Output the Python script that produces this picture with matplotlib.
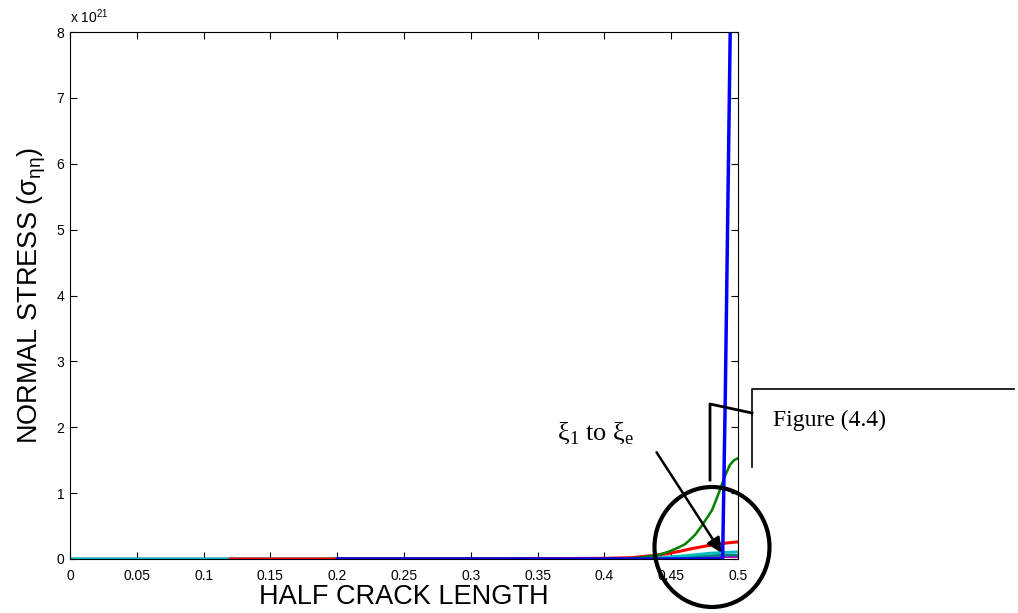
import numpy as np
import matplotlib.pyplot as plt
from matplotlib.patches import Ellipse
from matplotlib.lines import Line2D

# ---- data (stress in units of 1e21) ----
x_cyan = [0.0, 0.12, 0.40, 0.44, 0.46, 0.47, 0.48, 0.49, 0.50]
y_cyan = [0.0, 0.0, 0.0, 0.02, 0.05, 0.07, 0.09, 0.10, 0.11]

x_teal = [0.0, 0.40, 0.44, 0.46, 0.48, 0.49, 0.50]
y_teal = [0.0, 0.0, 0.01, 0.03, 0.05, 0.06, 0.06]

x_magenta = [0.0, 0.40, 0.44, 0.46, 0.48, 0.50]
y_magenta = [0.0, 0.0, 0.01, 0.02, 0.03, 0.03]

x_red = [0.12, 0.30, 0.40, 0.42, 0.435, 0.447, 0.457, 0.466, 0.474, 0.482, 0.49, 0.50]
y_red = [0.0, 0.0, 0.01, 0.02, 0.05, 0.08, 0.12, 0.16, 0.19, 0.22, 0.24, 0.26]

x_green = [0.40, 0.42, 0.43, 0.44, 0.448, 0.455, 0.46, 0.464, 0.468, 0.472,
           0.476, 0.4805, 0.4835, 0.4865, 0.49, 0.494, 0.497, 0.50]
y_green = [0.0, 0.01, 0.03, 0.06, 0.11, 0.17, 0.22, 0.29, 0.37, 0.48,
           0.60, 0.74, 0.89, 1.05, 1.25, 1.43, 1.50, 1.53]

x_blue = [0.20, 0.40, 0.48, 0.4885, 0.4905, 0.4925, 0.4945]
y_blue = [0.0, 0.0, 0.0, 0.0, 2.5, 5.5, 8.5]

x_ticks = [0, 0.05, 0.1, 0.15, 0.2, 0.25, 0.3, 0.35, 0.4, 0.45, 0.5]
y_ticks = [0, 1, 2, 3, 4, 5, 6, 7, 8]

SANS = "Liberation Sans"
SERIF = "Liberation Serif"

fig = plt.figure(figsize=(10.18, 6.13), dpi=100)
ax = fig.add_axes([70 / 1018, 54 / 613, 668 / 1018, 527 / 613])

scale = 1e21
ax.plot(x_magenta, np.array(y_magenta) * scale, color="#bf00bf", lw=1.5)
ax.plot(x_teal, np.array(y_teal) * scale, color="#008080", lw=2)
ax.plot(x_cyan, np.array(y_cyan) * scale, color="#00bfbf", lw=2)
ax.plot(x_red, np.array(y_red) * scale, color="#ff0000", lw=2.2)
ax.plot(x_green, np.array(y_green) * scale, color="#008000", lw=1.8)
ax.plot(x_blue, np.array(y_blue) * scale, color="#0000ff", lw=2.5)

ax.set_xlim(0, 0.5)
ax.set_ylim(0, 8 * scale)
ax.set_xticks(x_ticks)
ax.set_xticklabels([f"{t:g}" for t in x_ticks], family=SANS, fontsize=10)
ax.set_yticks(np.array(y_ticks) * scale)
ax.set_yticklabels([str(t) for t in y_ticks], family=SANS, fontsize=10)
ax.tick_params(direction="in", top=True, right=True, length=5, width=0.8)
ax.tick_params(axis="x", pad=7)
ax.tick_params(axis="y", pad=4)
for s in ax.spines.values():
    s.set_linewidth(0.8)

ax.text(0.0, 1.012, r"x 10$^{\mathregular{21}}$", transform=ax.transAxes,
        family=SANS, fontsize=10, ha="left", va="bottom")
ax.set_xlabel("HALF CRACK LENGTH", family=SANS, fontsize=19.5, labelpad=1)
ax.set_ylabel(r"NORMAL STRESS (σ$_{\mathregular{ηη}}$)", family=SANS,
              fontsize=19.5, labelpad=6)

# ---- annotations (figure pixel coords -> fraction) ----
W, H = 1018, 613


def fx(px):
    return px / W


def fy(py):
    return 1 - py / H


def fig_line(xs, ys, lw):
    fig.add_artist(Line2D([fx(v) for v in xs], [fy(v) for v in ys],
                          color="black", lw=lw, transform=fig.transFigure))


fig_line([710, 710, 752], [480, 404, 413], 2)
fig_line([752, 752, 1014], [467, 389, 389], 1.2)
fig.text(fx(773), fy(420), "Figure (4.4)", family=SERIF, fontsize=17,
         ha="left", va="center")

fig.add_artist(Ellipse((fx(712), fy(547)), 115 / W, 120 / H, fill=False,
                       ec="black", lw=3, transform=fig.transFigure))

ax.annotate("", xy=(0.4888, 0.06 * scale), xytext=(0.4379, 1.655 * scale),
            arrowprops=dict(arrowstyle="-|>", color="black", lw=1.8,
                            mutation_scale=22), annotation_clip=False)
fig.text(fx(557), fy(433), r"ξ$_\mathregular{1}$ to ξ$_\mathregular{e}$",
         family=SERIF, fontsize=19, ha="left", va="center")

fig.savefig("out.png", dpi=100)
